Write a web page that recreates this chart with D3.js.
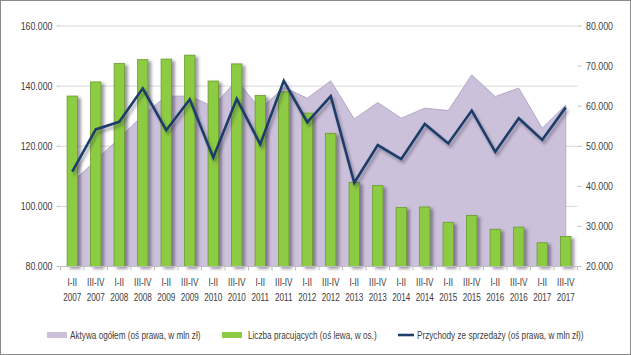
<!DOCTYPE html>
<html>
<head>
<meta charset="utf-8">
<script src="https://cdn.jsdelivr.net/npm/d3@7"></script>
<style>
  html, body { margin: 0; padding: 0; background: #fff; }
  svg { display: block; }
  text { font-family: "Liberation Sans", Arial, sans-serif; fill: #404040; }
</style>
</head>
<body>
<svg id="chart" width="631" height="355"></svg>
<script>
// ---- data ----
const periods = ["I-II","III-IV","I-II","III-IV","I-II","III-IV","I-II","III-IV","I-II","III-IV","I-II","III-IV","I-II","III-IV","I-II","III-IV","I-II","III-IV","I-II","III-IV","I-II","III-IV"];
const years = ["2007","2007","2008","2008","2009","2009","2010","2010","2011","2011","2012","2012","2013","2013","2014","2014","2015","2015","2016","2016","2017","2017"];
// Liczba pracujących (left axis, persons)
const employed = [136700,141400,147500,148800,149000,150300,141700,147400,136900,138100,131000,124300,108000,106900,99600,99800,94700,97000,92400,93100,87900,90000];
// Aktywa ogółem (right axis, mln zł)
const assets = [41000,46500,52000,57700,62500,62500,59900,66500,59200,64700,62000,66300,56800,60900,57000,59500,58900,67800,62400,64500,54500,60300];
// Przychody ze sprzedaży (right axis, mln zł)
const revenue = [43650,54200,56100,64450,54000,61700,47200,61800,50500,66300,56000,62500,40900,50300,46800,55550,50700,58900,48600,57000,51600,59700];
const leftTicks = [80000,100000,120000,140000,160000];
const rightTicks = [20000,30000,40000,50000,60000,70000,80000];
const legendLabels = ["Aktywa ogółem (oś prawa, w mln zł)","Liczba pracujących (oś lewa, w os.)","Przychody ze sprzedaży (oś prawa, w mln zł))"];

// ---- layout ----
const W = 631, H = 355;
const plot = {left: 60.5, right: 577.5, top: 26, bottom: 266.5};
const svg = d3.select("#chart");
const cats = periods.map((p,i) => i);

const x = d3.scaleBand().domain(cats).range([plot.left, plot.right]).padding(0);
const cx = i => x(i) + x.bandwidth()/2;
const yL = d3.scaleLinear().domain([80000,160000]).range([plot.bottom, plot.top]);
const yR = d3.scaleLinear().domain([20000,80000]).range([plot.bottom, plot.top]);
const fmt = v => d3.format(",")(v).replace(/,/g, ".");
const tr = (px, py, sx) => `translate(${px},${py}) scale(${sx},1)`;
const SXA = 0.84, SXL = 0.78;

const defs = svg.append("defs");
const f1 = defs.append("filter").attr("id","sh").attr("x","-50%").attr("y","-20%").attr("width","250%").attr("height","140%");
f1.append("feDropShadow").attr("dx",3).attr("dy",2).attr("stdDeviation",1.6).attr("flood-color","#3a3050").attr("flood-opacity",0.5);
const f2 = defs.append("filter").attr("id","shl").attr("x","-10%").attr("y","-10%").attr("width","120%").attr("height","130%");
f2.append("feDropShadow").attr("dx",2).attr("dy",3).attr("stdDeviation",1.5).attr("flood-color","#2a2a40").attr("flood-opacity",0.4);

// frame
svg.append("rect").attr("x",0.5).attr("y",0.5).attr("width",W-1).attr("height",H-1)
  .attr("fill","#fff").attr("stroke","#8a8a8a");

// gridlines
svg.append("g").selectAll("line").data(leftTicks.slice(1)).join("line")
  .attr("x1",plot.left).attr("x2",plot.right)
  .attr("y1",d=>yL(d)).attr("y2",d=>yL(d))
  .attr("stroke","#d9d9d9").attr("stroke-width",1);

// area (right axis)
const area = d3.area().x((d,i)=>cx(i)).y0(yR(20000)).y1(d=>yR(d));
svg.append("path").datum(assets).attr("d",area)
  .attr("fill","#ccc1da").attr("stroke","#b3a8c6").attr("stroke-width",1);

// bars (left axis)
const bw = x.bandwidth()*0.44;
svg.append("g").attr("filter","url(#sh)").selectAll("rect").data(employed).join("rect")
  .attr("x",(d,i)=>cx(i)-bw/2).attr("width",bw)
  .attr("y",d=>yL(d)).attr("height",d=>yL(80000)-yL(d))
  .attr("fill","#8dcb43").attr("stroke","#6a9c2e").attr("stroke-width",0.8);

// line (right axis)
const line = d3.line().x((d,i)=>cx(i)).y(d=>yR(d));
svg.append("path").datum(revenue).attr("d",line)
  .attr("fill","none").attr("stroke","#1f3e6a").attr("stroke-width",2.6)
  .attr("stroke-linejoin","miter").attr("filter","url(#shl)");

// x axis
svg.append("line").attr("x1",plot.left).attr("x2",plot.right)
  .attr("y1",plot.bottom).attr("y2",plot.bottom).attr("stroke","#bfbfbf");
svg.append("g").selectAll("line").data(d3.range(cats.length+1)).join("line")
  .attr("x1",i=>plot.left + i*x.bandwidth()).attr("x2",i=>plot.left + i*x.bandwidth())
  .attr("y1",plot.bottom).attr("y2",plot.bottom+4).attr("stroke","#bfbfbf");
const xg = svg.append("g").attr("font-size",10.5).attr("text-anchor","middle");
xg.selectAll("text.p").data(cats).join("text").attr("class","p")
  .attr("transform",i=>tr(cx(i),286,SXL)).text(i=>periods[i]);
xg.selectAll("text.y").data(cats).join("text").attr("class","y")
  .attr("transform",i=>tr(cx(i),300.5,SXL)).text(i=>years[i]);

// left axis
svg.append("g").selectAll("line").data(leftTicks).join("line")
  .attr("x1",plot.left-4).attr("x2",plot.left).attr("y1",d=>yL(d)).attr("y2",d=>yL(d))
  .attr("stroke","#bfbfbf");
svg.append("g").attr("font-size",10.5).attr("text-anchor","end").selectAll("text").data(leftTicks).join("text")
  .attr("transform",d=>tr(52.5,yL(d)+3.7,SXA)).text(d=>fmt(d));

// right axis
svg.append("g").selectAll("line").data(rightTicks).join("line")
  .attr("x1",plot.right).attr("x2",plot.right+4).attr("y1",d=>yR(d)).attr("y2",d=>yR(d))
  .attr("stroke","#bfbfbf");
svg.append("g").attr("font-size",10.5).attr("text-anchor","start").selectAll("text").data(rightTicks).join("text")
  .attr("transform",d=>tr(586,yR(d)+3.7,SXA)).text(d=>fmt(d));

// legend
const lg = svg.append("g").attr("font-size",10.5);
lg.append("rect").attr("x",47).attr("y",332).attr("width",20).attr("height",6).attr("fill","#ccc1da");
lg.append("text").attr("transform",tr(70,339,SXL)).text(legendLabels[0]);
lg.append("rect").attr("x",222).attr("y",332).attr("width",20).attr("height",6).attr("fill","#8dcb43");
lg.append("text").attr("transform",tr(248,339,SXL)).text(legendLabels[1]);
lg.append("line").attr("x1",398).attr("x2",414).attr("y1",335).attr("y2",335).attr("stroke","#1f3e6a").attr("stroke-width",2.6);
lg.append("text").attr("transform",tr(417,339,SXL)).text(legendLabels[2]);
</script>
</body>
</html>
